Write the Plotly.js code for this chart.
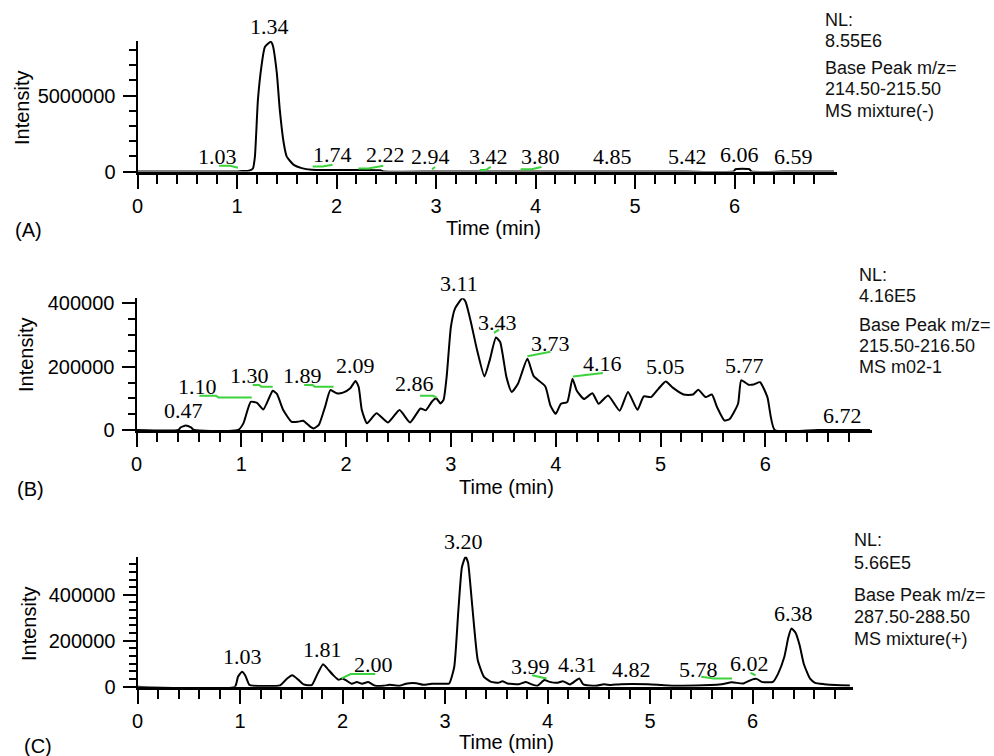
<!DOCTYPE html>
<html>
<head>
<meta charset="utf-8">
<script src="https://cdn.plot.ly/plotly-3.0.1.min.js"></script>
<style>
  html, body { margin: 0; padding: 0; background: #fff; }
  #chart { width: 994px; height: 756px; }
</style>
</head>
<body>
<div id="chart"></div>
<script>
// ---------- time axis ticks (min) ----------
const timeTicks = [0, 1, 2, 3, 4, 5, 6];
const timeMinorTicks = [0.2, 0.4, 0.6, 0.8, 1.2, 1.4, 1.6, 1.8, 2.2, 2.4, 2.6, 2.8, 3.2, 3.4, 3.6, 3.8, 4.2, 4.4, 4.6, 4.8, 5.2, 5.4, 5.6, 5.8, 6.2, 6.4, 6.6, 6.8];

// ---------- (A) Base Peak m/z 214.50-215.50, MS mixture(-) ----------
const timeA = [0, 0.50, 0.95, 1.05, 1.12, 1.16, 1.18, 1.21, 1.245, 1.28, 1.34, 1.36, 1.40, 1.43, 1.47, 1.50, 1.57, 1.65, 1.75, 2.00, 2.20, 2.44, 2.48, 3.00, 3.50, 4.00, 4.50, 5.00, 5.50, 5.99, 6.01, 6.15, 6.17, 6.50, 7.00];
const intensityA = [0, 0, 0, 30000, 50000, 200000, 980000, 4700000, 6900000, 8200000, 8550000, 8300000, 6500000, 4060000, 1860000, 980000, 440000, 220000, 110000, 100000, 100000, 80000, 0, 0, 0, 0, 0, 0, 0, 0, 150000, 150000, 0, 0, 0];
const peakRtA = [1.03, 1.34, 1.74, 2.22, 2.94, 3.42, 3.80, 4.85, 5.42, 6.06, 6.59];
const peakApexA = [0, 8550000, 110000, 100000, 0, 0, 0, 0, 0, 150000, 0];
const markTimeA = [0.82, 0.93, 1.01, null, 1.76, 1.86, 1.96, null, 2.22, 2.32, 2.47, null, 2.96, 2.99, null, 3.44, 3.50, 3.55, null, 3.85, 3.96, 4.06];
const markIntA = [380000, 380000, 250000, null, 330000, 330000, 440000, null, 200000, 200000, 380000, null, 150000, 300000, null, 100000, 100000, 300000, null, 150000, 150000, 300000];
const infoA = ['NL:', '8.55E6', 'Base Peak m/z=', '214.50-215.50', 'MS mixture(-)'];

// ---------- (B) Base Peak m/z 215.50-216.50, MS m02-1 ----------
const timeB = [0, 0.40, 0.42, 0.47, 0.52, 0.55, 0.97, 1.02, 1.09, 1.15, 1.21, 1.27, 1.30, 1.34, 1.40, 1.48, 1.54, 1.59, 1.66, 1.69, 1.74, 1.80, 1.85, 1.91, 1.97, 2.04, 2.09, 2.12, 2.15, 2.20, 2.29, 2.40, 2.51, 2.61, 2.71, 2.76, 2.82, 2.86, 2.90, 2.93, 2.96, 3.00, 3.04, 3.11, 3.14, 3.19, 3.25, 3.32, 3.37, 3.43, 3.47, 3.53, 3.58, 3.64, 3.73, 3.79, 3.90, 3.95, 4.00, 4.05, 4.11, 4.16, 4.20, 4.27, 4.35, 4.41, 4.50, 4.61, 4.69, 4.78, 4.84, 4.91, 4.98, 5.05, 5.12, 5.22, 5.31, 5.36, 5.43, 5.49, 5.54, 5.61, 5.66, 5.74, 5.77, 5.84, 5.89, 5.95, 6.02, 6.09, 6.50, 7.00];
const intensityB = [0, 0, 8000, 14000, 8000, 0, 0, 21000, 89000, 86000, 65000, 105000, 124000, 114000, 63000, 26000, 26000, 29000, 10000, 5000, 16000, 74000, 126000, 116000, 118000, 132000, 155000, 136000, 63000, 21000, 53000, 24000, 63000, 24000, 68000, 62000, 90000, 100000, 84000, 95000, 170000, 326000, 384000, 416000, 405000, 342000, 252000, 169000, 220000, 292000, 278000, 167000, 120000, 146000, 225000, 170000, 138000, 77000, 51000, 83000, 88000, 162000, 125000, 98000, 116000, 83000, 109000, 61000, 120000, 64000, 106000, 104000, 130000, 153000, 133000, 112000, 112000, 127000, 104000, 112000, 72000, 30000, 35000, 83000, 157000, 143000, 144000, 151000, 104000, 0, 0, 0];
const peakRtB = [0.47, 1.10, 1.30, 1.89, 2.09, 2.86, 3.11, 3.43, 3.73, 4.16, 5.05, 5.77, 6.72];
const peakApexB = [14000, 89000, 124000, 126000, 155000, 100000, 416000, 292000, 225000, 162000, 153000, 157000, 0];
const markTimeB = [0.60, 0.76, 0.78, 1.10, null, 1.11, 1.17, 1.19, 1.30, null, 1.60, 1.68, 1.70, 1.88, null, 2.705, 2.83, 2.865, null, 3.41, 3.46, null, 3.73, 3.95, null, 4.165, 4.45];
const markIntB = [108000, 108000, 103000, 103000, null, 142000, 142000, 137000, 137000, null, 142000, 142000, 137000, 137000, null, 108000, 108000, 102000, null, 307000, 317000, null, 233000, 247000, null, 169000, 180000];
const infoB = ['NL:', '4.16E5', 'Base Peak m/z=', '215.50-216.50', 'MS m02-1'];

// ---------- (C) Base Peak m/z 287.50-288.50, MS mixture(+) ----------
const timeC = [0, 0.95, 0.98, 1.02, 1.05, 1.09, 1.13, 1.39, 1.46, 1.51, 1.57, 1.62, 1.70, 1.75, 1.81, 1.85, 1.91, 1.96, 2.00, 2.04, 2.09, 2.14, 2.19, 2.25, 2.32, 2.40, 2.46, 2.56, 2.62, 2.72, 2.79, 2.87, 2.98, 3.04, 3.09, 3.13, 3.165, 3.20, 3.225, 3.25, 3.285, 3.32, 3.38, 3.45, 3.52, 3.56, 3.61, 3.72, 3.79, 3.84, 3.90, 3.97, 4.02, 4.10, 4.15, 4.22, 4.31, 4.35, 4.47, 4.55, 4.62, 4.71, 4.98, 5.12, 5.26, 5.59, 5.70, 5.80, 5.91, 6.00, 6.04, 6.09, 6.20, 6.25, 6.31, 6.35, 6.38, 6.42, 6.46, 6.50, 6.56, 6.61, 6.70, 6.81, 6.95];
const intensityC = [0, 0, 43000, 65000, 50000, 8600, 4000, 6000, 36000, 50000, 30000, 10000, 7000, 50000, 98000, 80000, 50000, 30000, 36000, 26000, 13000, 20000, 13000, 20000, 4000, 4000, 8000, 4000, 13000, 15000, 8000, 13000, 13000, 14000, 86000, 330000, 520000, 566000, 540000, 430000, 258000, 115000, 43000, 21000, 17000, 24000, 14000, 11000, 21000, 11000, 4000, 29000, 21000, 17000, 24000, 10000, 36000, 10000, 4000, 11000, 7000, 11000, 11000, 7000, 4000, 7000, 11000, 19000, 14000, 32000, 34000, 21000, 21000, 57000, 129000, 215000, 253000, 235000, 180000, 100000, 36000, 17000, 11000, 7000, 5000];
const peakRtC = [1.03, 1.81, 2.00, 3.20, 3.99, 4.31, 4.82, 5.78, 6.02, 6.38];
const peakApexC = [65000, 98000, 32000, 566000, 22000, 30000, 8000, 8000, 34000, 253000];
const markTimeC = [1.99, 2.08, 2.32, null, 3.85, 3.99, null, 5.50, 5.62, 5.80, null, 5.98, 6.03];
const markIntC = [36000, 55000, 55000, null, 50000, 36000, null, 43000, 36000, 36000, null, 60000, 50000];
const infoC = ['NL:', '5.66E5', 'Base Peak m/z=', '287.50-288.50', 'MS mixture(+)'];

// ---------- page geometry (pixels) ----------
const W = 994, H = 756;
const fx = v => v / W;
const fy = v => 1 - v / H;

const SANS = 'Liberation Sans, Arial, sans-serif';
const SERIF = 'Liberation Serif, Times New Roman, serif';
const GREEN = '#3cd23c';

const panels = [
  { id: '', tag: '(A)', time: timeA, inten: intensityA, rt: peakRtA, apex: peakApexA,
    mt: markTimeA, mi: markIntA, info: infoA,
    left: 137.5, right: 836.7, top: 40.7, zero: 171.5, perMin: 99.5, yMax: 8620000,
    yMajor: 5000000, yMinor: 1000000,
    nudge: [-22, -1, 22, 27, 0, 11, 25, -8, 11, -1, 0],
    infoX: 823, infoY: [20, 41.5, 68, 89.5, 111],
    tagPos: [13, 230], timePos: [493, 228], intPos: [22, 108] },
  { id: '2', tag: '(B)', time: timeB, inten: intensityB, rt: peakRtB, apex: peakApexB,
    mt: markTimeB, mi: markIntB, info: infoB,
    left: 136.5, right: 871.7, top: 298.3, zero: 430, perMin: 104.8, yMax: 416000,
    yMajor: 200000, yMinor: 50000,
    nudge: [-2, -54, -23, -32, 0, -22, -3, 2, 23, 30, 0, 3, 2],
    infoX: 857, infoY: [275, 296, 325, 346.5, 367],
    tagPos: [15, 489], timePos: [507, 487], intPos: [26, 355] },
  { id: '3', tag: '(C)', time: timeC, inten: intensityC, rt: peakRtC, apex: peakApexC,
    mt: markTimeC, mi: markIntC, info: infoC,
    left: 137.5, right: 853.3, top: 556.7, zero: 686.7, perMin: 102.5, yMax: 566000,
    yMajor: 200000, yMinor: 200000 / 6,
    nudge: [-1, -1, 31, -2, -16, -2, 0, -31, -5, 2],
    infoX: 852, infoY: [540, 563, 595, 616.5, 638.5],
    tagPos: [22, 746], timePos: [507, 742], intPos: [29, 624] }
];

const traces = [];
const annotations = [];
const layout = {
  width: W, height: H,
  margin: { l: 0, r: 0, t: 0, b: 0, pad: 0 },
  paper_bgcolor: '#fff', plot_bgcolor: '#fff',
  showlegend: false,
  font: { family: SANS, color: '#000' }
};

panels.forEach(p => {
  const xa = 'x' + p.id, ya = 'y' + p.id;

  // chromatogram trace
  traces.push({
    x: p.time, y: p.inten, xaxis: xa, yaxis: ya, type: 'scatter', mode: 'lines',
    line: { color: '#000', width: 2, shape: 'spline', smoothing: 0.5 },
    hoverinfo: 'skip'
  });
  // integration baseline marks
  traces.push({
    x: p.mt, y: p.mi, xaxis: xa, yaxis: ya, type: 'scatter', mode: 'lines',
    line: { color: GREEN, width: 2 }, connectgaps: false, hoverinfo: 'skip'
  });

  layout['xaxis' + p.id] = {
    domain: [fx(p.left), fx(p.right)],
    range: [0, (p.right - p.left) / p.perMin],
    anchor: ya,
    showline: true, linecolor: '#000', linewidth: 3,
    ticks: 'outside', ticklen: 14, tickwidth: 2, tickcolor: '#000',
    tickmode: 'array', tickvals: timeTicks, ticktext: timeTicks.map(String),
    minor: { ticks: 'outside', tickmode: 'array', tickvals: timeMinorTicks,
             ticklen: 9, tickwidth: 2, tickcolor: '#000', showgrid: false },
    showgrid: false, zeroline: false,
    tickfont: { family: SANS, size: 20, color: '#000' },
    fixedrange: true
  };
  layout['yaxis' + p.id] = {
    domain: [fy(p.zero), fy(p.top)],
    range: [0, p.yMax],
    anchor: xa,
    showline: true, linecolor: '#000', linewidth: 2,
    ticks: 'outside', ticklen: 13, tickwidth: 2, tickcolor: '#000',
    tick0: 0, dtick: p.yMajor, tickformat: 'd',
    minor: { ticks: 'outside', dtick: p.yMinor, tick0: 0, ticklen: 7, tickwidth: 2, tickcolor: '#000', showgrid: false },
    showgrid: false, zeroline: false,
    tickfont: { family: SANS, size: 20, color: '#000' },
    ticklabelstandoff: 3,
    fixedrange: true
  };

  // retention-time labels above their peaks
  p.rt.forEach((rt, i) => {
    annotations.push({
      xref: xa, yref: ya, x: rt, y: p.apex[i],
      text: rt.toFixed(2), showarrow: false,
      xanchor: 'center', yanchor: 'middle',
      xshift: p.nudge[i], yshift: 15,
      font: { family: SERIF, size: 22, color: '#000' }
    });
  });

  // acquisition info block on the right
  p.info.forEach((line, i) => {
    annotations.push({
      xref: 'paper', yref: 'paper', x: fx(p.infoX), y: fy(p.infoY[i]),
      xanchor: 'left', yanchor: 'middle', showarrow: false, text: line,
      font: { family: SANS, size: 18, color: '#111' }
    });
  });

  // panel tag, axis titles
  annotations.push({
    xref: 'paper', yref: 'paper', x: fx(p.tagPos[0]), y: fy(p.tagPos[1]),
    xanchor: 'left', yanchor: 'middle', showarrow: false, text: p.tag,
    font: { family: SANS, size: 20, color: '#000' }
  });
  annotations.push({
    xref: 'paper', yref: 'paper', x: fx(p.timePos[0]), y: fy(p.timePos[1]),
    xanchor: 'center', yanchor: 'middle', showarrow: false, text: 'Time (min)',
    font: { family: SANS, size: 20, color: '#000' }
  });
  annotations.push({
    xref: 'paper', yref: 'paper', x: fx(p.intPos[0]), y: fy(p.intPos[1]),
    xanchor: 'center', yanchor: 'middle', showarrow: false, text: 'Intensity',
    textangle: -90,
    font: { family: SANS, size: 20, color: '#000' }
  });
});

layout.annotations = annotations;

Plotly.newPlot('chart', traces, layout, { displayModeBar: false, staticPlot: true });
</script>
</body>
</html>
